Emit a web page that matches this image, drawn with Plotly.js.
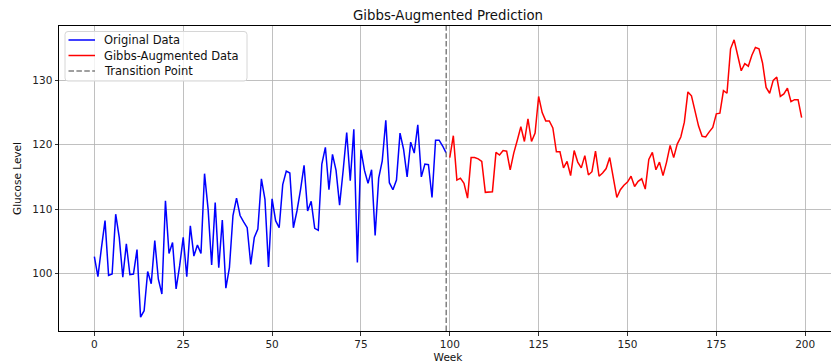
<!DOCTYPE html>
<html>
<head>
<meta charset="utf-8">
<script src="https://cdn.plot.ly/plotly-3.0.1.min.js"></script>
<style>
html, body { margin: 0; padding: 0; overflow: hidden; background: #fff; }
#chart { width: 840px; height: 363px; }
</style>
</head>
<body>
<div id="chart"></div>
<script>
// Original data: weeks 0..99
const originalWeeks = Array.from({length: 100}, (_, i) => i);
const originalValues = [
  102.6, 99.5, 104.0, 108.2, 99.7, 99.9, 109.2, 105.6, 99.4, 104.6,
  99.8, 99.9, 103.7, 93.2, 94.2, 100.3, 98.4, 105.1, 99.1, 96.8,
  111.3, 103.1, 104.8, 97.6, 101.2, 105.6, 99.5, 107.4, 102.7, 104.4,
  103.1, 115.5, 110.0, 101.3, 111.0, 100.9, 108.3, 97.7, 100.9, 109.0,
  111.7, 109.0, 108.0, 107.1, 101.4, 105.6, 106.9, 114.7, 111.5, 101.0,
  111.6, 108.2, 107.1, 113.8, 115.9, 115.6, 107.1, 109.7, 113.0, 116.8,
  109.7, 111.2, 107.0, 106.7, 117.0, 119.6, 113.0, 118.5, 116.0, 110.6,
  116.0, 121.9, 114.4, 122.4, 101.7, 119.2, 116.0, 114.0, 116.1, 105.9,
  114.8, 117.5, 123.8, 114.1, 113.0, 114.5, 121.8, 119.3, 115.0, 120.4,
  118.7, 123.1, 115.0, 117.0, 116.9, 111.8, 120.7, 120.7, 119.8, 118.7
];
// Gibbs-augmented data: weeks 100..199
const gibbsWeeks = Array.from({length: 100}, (_, i) => i + 100);
const gibbsValues = [
  118.0, 121.4, 114.5, 114.8, 114.0, 111.7, 118.0, 118.0, 117.8, 117.4,
  112.6, 112.6, 112.7, 118.8, 118.4, 119.1, 119.0, 116.1, 118.7, 120.7,
  122.8, 120.5, 124.0, 120.5, 121.8, 127.5, 125.0, 123.7, 123.7, 122.6,
  118.9, 118.9, 116.4, 117.4, 115.2, 119.1, 117.3, 116.4, 118.3, 115.3,
  115.8, 119.0, 115.1, 115.6, 116.3, 118.0, 114.9, 111.8, 113.0, 113.7,
  114.2, 115.1, 113.5, 114.3, 114.7, 113.1, 117.7, 118.8, 116.1, 117.3,
  115.2, 117.3, 119.9, 118.0, 120.1, 121.2, 123.5, 128.2, 127.6, 125.3,
  122.9, 121.3, 121.2, 122.0, 122.7, 124.8, 124.9, 128.4, 128.0, 134.9,
  136.3, 133.9, 131.5, 132.6, 132.2, 133.9, 135.1, 134.9, 132.7, 128.9,
  128.0, 130.0, 130.5, 127.5, 127.9, 128.8, 126.7, 127.0, 127.0, 124.2
];
const transitionWeek = [99];
const seriesNames = ['Original Data', 'Gibbs-Augmented Data', 'Transition Point'];
const xTicks = [0, 25, 50, 75, 100, 125, 150, 175, 200];
const yTicks = [100, 110, 120, 130];

const xRange = [-9.95, 208.95];
const yRange = [91.05, 138.45];

const font = 'DejaVu Sans, Arial, sans-serif';
const colors = ['#0000ff', '#ff0000', '#808080'];
const dashes = ['solid', 'solid', '5.5px,2.4px'];

const W = 840, H = 363;
const M = {l: 59, r: 3, t: 26, b: 32};
const PW = W - M.l - M.r, PH = H - M.t - M.b;
const px2x = p => (p - M.l) / PW;
const px2y = p => (H - M.b - p) / PH;

const traces = [
  {
    x: originalWeeks, y: originalValues, type: 'scatter', mode: 'lines',
    name: seriesNames[0], line: {color: colors[0], width: 1.5}, showlegend: false
  },
  {
    x: gibbsWeeks, y: gibbsValues, type: 'scatter', mode: 'lines',
    name: seriesNames[1], line: {color: colors[1], width: 1.5}, showlegend: false
  },
  {
    x: [transitionWeek[0], transitionWeek[0]], y: yRange, type: 'scatter', mode: 'lines',
    name: seriesNames[2], line: {color: colors[2], width: 1.5, dash: dashes[2]}, showlegend: false
  }
];

// Custom legend (matplotlib style)
const box = {x0: 65, x1: 247, y0: 31.5, y1: 81, r: 3};
const rowY = [40, 55.5, 71];
const rx = box.r / PW, ry = box.r / PH;
const bx0 = px2x(box.x0), bx1 = px2x(box.x1), by0 = px2y(box.y1), by1 = px2y(box.y0);
const boxPath = `M ${bx0 + rx} ${by0} L ${bx1 - rx} ${by0} Q ${bx1} ${by0} ${bx1} ${by0 + ry} ` +
  `L ${bx1} ${by1 - ry} Q ${bx1} ${by1} ${bx1 - rx} ${by1} L ${bx0 + rx} ${by1} Q ${bx0} ${by1} ${bx0} ${by1 - ry} ` +
  `L ${bx0} ${by0 + ry} Q ${bx0} ${by0} ${bx0 + rx} ${by0} Z`;
const shapes = [{
  type: 'path', xref: 'paper', yref: 'paper', path: boxPath,
  fillcolor: 'rgba(255,255,255,0.8)', line: {color: '#d6d6d6', width: 1}, layer: 'above'
}];
const annotations = [];
seriesNames.forEach((name, k) => {
  shapes.push({
    type: 'line', xref: 'paper', yref: 'paper',
    x0: px2x(68.5), x1: px2x(95), y0: px2y(rowY[k]), y1: px2y(rowY[k]),
    line: {color: colors[k], width: 1.5, dash: dashes[k]}, layer: 'above'
  });
  annotations.push({
    xref: 'paper', yref: 'paper', x: px2x(101.5), y: px2y(rowY[k]),
    xanchor: 'left', yanchor: 'middle', showarrow: false, text: name,
    font: {family: font, size: 11.5, color: '#111'}
  });
});

const axisCommon = {
  showgrid: true, gridcolor: '#b0b0b0', gridwidth: 0.8,
  zeroline: false, showline: true, linecolor: '#000', linewidth: 1, mirror: true,
  ticks: 'outside', ticklen: 3.5, tickwidth: 0.8, tickcolor: '#000',
  tickfont: {family: font, size: 10.5, color: '#222'}
};

const layout = {
  width: W, height: H,
  margin: M,
  paper_bgcolor: '#fff', plot_bgcolor: '#fff',
  title: {text: 'Gibbs-Augmented Prediction', font: {family: font, size: 13.3, color: '#111'},
          x: px2x(448), xref: 'paper', xanchor: 'center', y: 1 - 15 / H, yref: 'container', yanchor: 'middle'},
  xaxis: Object.assign({}, axisCommon, {
    range: xRange, tickvals: xTicks, ticktext: xTicks.map(String),
    title: {text: 'Week', font: {family: font, size: 10.5, color: '#111'}, standoff: 4}
  }),
  yaxis: Object.assign({}, axisCommon, {
    range: yRange, tickvals: yTicks, ticktext: yTicks.map(String),
    title: {text: 'Glucose Level', font: {family: font, size: 10.5, color: '#111'}, standoff: 8}
  }),
  showlegend: false,
  shapes: shapes,
  annotations: annotations
};

Plotly.newPlot('chart', traces, layout, {displayModeBar: false, staticPlot: true});
</script>
</body>
</html>
